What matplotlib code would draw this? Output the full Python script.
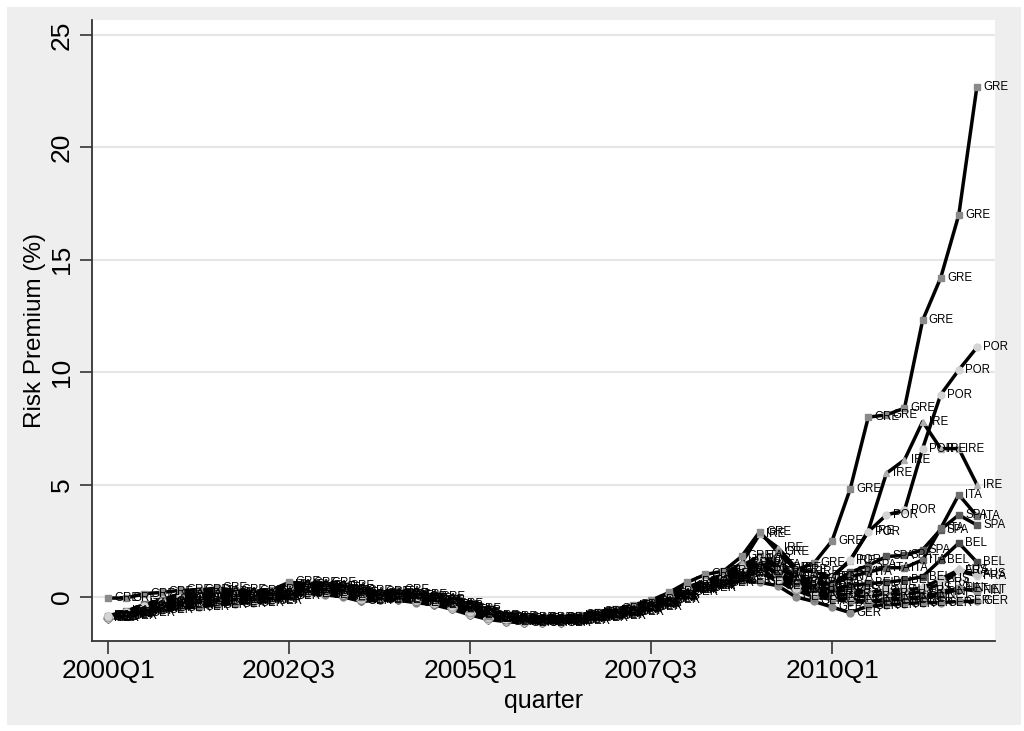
import matplotlib
matplotlib.use("Agg")
import matplotlib.pyplot as plt
from matplotlib.patches import Rectangle

plt.rcParams['font.family'] = ['Liberation Sans', 'DejaVu Sans']

quarters = list(range(49))  # 2000Q1 .. 2012Q1
tick_pos = [0, 10, 20, 30, 40]
tick_labels = ["2000Q1", "2002Q3", "2005Q1", "2007Q3", "2010Q1"]

GRE = [-0.05, -0.05, 0.15, 0.20, 0.30, 0.30, 0.40, 0.30, 0.25, 0.30,
       0.65, 0.60, 0.60, 0.50, 0.25, 0.20, 0.30, 0.10, 0.00, -0.30,
       -0.55, -0.85, -0.90, -0.95, -0.95, -0.95, -0.80, -0.65, -0.55, -0.35,
       -0.15, 0.20, 0.65, 1.00, 1.15, 1.80, 2.90, 2.00, 1.20, 1.50,
       2.50, 4.80, 8.00, 8.10, 8.40, 12.30, 14.20, 17.00, 22.70]
POR = [-0.86, -0.67, -0.40, -0.21, 0.02, 0.04, 0.14, 0.09, 0.08, 0.13,
       0.44, 0.44, 0.43, 0.33, 0.09, 0.08, 0.14, -0.02, -0.12, -0.39,
       -0.64, -0.90, -0.97, -1.02, -1.02, -1.02, -0.89, -0.76, -0.66, -0.46,
       -0.26, 0.08, 0.40, 0.65, 0.90, 1.30, 1.70, 1.30, 0.85, 0.80,
       0.90, 1.65, 2.90, 3.65, 3.85, 6.60, 9.00, 10.10, 11.10]
IRE = [-0.88, -0.71, -0.47, -0.30, -0.10, -0.08, 0.03, 0.00, 0.00, 0.05,
       0.35, 0.38, 0.35, 0.25, 0.03, 0.03, 0.08, -0.08, -0.18, -0.43,
       -0.68, -0.93, -1.00, -1.05, -1.05, -1.05, -0.93, -0.80, -0.70, -0.50,
       -0.30, 0.03, 0.40, 0.70, 1.00, 1.50, 2.80, 2.20, 1.30, 1.10,
       0.90, 1.60, 2.95, 5.50, 6.10, 7.80, 6.60, 6.60, 5.00]
ITA = [-0.84, -0.63, -0.33, -0.12, 0.14, 0.15, 0.25, 0.18, 0.15, 0.20,
       0.53, 0.51, 0.50, 0.40, 0.16, 0.13, 0.21, 0.03, -0.07, -0.35,
       -0.60, -0.88, -0.94, -0.99, -0.99, -0.99, -0.85, -0.71, -0.61, -0.41,
       -0.21, 0.13, 0.45, 0.70, 0.95, 1.40, 1.80, 1.40, 0.90, 0.70,
       0.55, 0.90, 1.10, 1.30, 1.30, 1.65, 3.05, 4.55, 3.60]
SPA = [-0.89, -0.72, -0.49, -0.33, -0.14, -0.11, -0.01, -0.03, -0.03, 0.03,
       0.32, 0.35, 0.33, 0.23, 0.00, 0.01, 0.05, -0.09, -0.19, -0.44,
       -0.69, -0.93, -1.01, -1.06, -1.06, -1.06, -0.94, -0.82, -0.72, -0.52,
       -0.32, 0.01, 0.35, 0.55, 0.80, 1.10, 1.40, 1.10, 0.70, 0.60,
       0.60, 1.10, 1.40, 1.80, 1.85, 2.10, 3.00, 3.65, 3.20]
BEL = [-0.88, -0.70, -0.44, -0.27, -0.06, -0.04, 0.06, 0.03, 0.03, 0.08,
       0.38, 0.40, 0.38, 0.28, 0.05, 0.04, 0.10, -0.06, -0.16, -0.41,
       -0.66, -0.92, -0.99, -1.04, -1.04, -1.04, -0.91, -0.79, -0.69, -0.49,
       -0.29, 0.04, 0.40, 0.60, 0.85, 1.20, 1.50, 1.00, 0.60, 0.40,
       0.35, 0.50, 0.60, 0.65, 0.75, 0.90, 1.65, 2.40, 1.55]
AUS = [-0.90, -0.74, -0.51, -0.36, -0.18, -0.15, -0.05, -0.06, -0.05, 0.00,
       0.29, 0.33, 0.30, 0.20, -0.02, -0.01, 0.03, -0.11, -0.21, -0.45,
       -0.70, -0.94, -1.02, -1.07, -1.07, -1.07, -0.95, -0.83, -0.73, -0.53,
       -0.33, -0.01, 0.35, 0.55, 0.80, 1.30, 1.60, 1.00, 0.50, 0.30,
       0.25, 0.30, 0.20, 0.30, 0.30, 0.40, 0.80, 1.20, 1.00]
FRA = [-0.91, -0.77, -0.56, -0.42, -0.26, -0.23, -0.13, -0.12, -0.10, -0.05,
       0.23, 0.29, 0.25, 0.15, -0.07, -0.05, -0.02, -0.15, -0.25, -0.48,
       -0.73, -0.96, -1.04, -1.09, -1.09, -1.09, -0.98, -0.86, -0.76, -0.56,
       -0.36, -0.05, 0.30, 0.50, 0.75, 1.00, 1.10, 0.80, 0.40, 0.20,
       0.10, 0.10, 0.00, 0.15, 0.10, 0.25, 0.60, 1.15, 0.95]
FIN = [-0.92, -0.78, -0.58, -0.45, -0.30, -0.26, -0.16, -0.15, -0.13, -0.08,
       0.20, 0.26, 0.23, 0.13, -0.09, -0.06, -0.04, -0.16, -0.26, -0.49,
       -0.74, -0.96, -1.05, -1.10, -1.10, -1.10, -0.99, -0.88, -0.78, -0.58,
       -0.38, -0.06, 0.30, 0.50, 0.75, 1.00, 1.20, 0.80, 0.30, 0.05,
       0.00, -0.10, -0.20, -0.10, -0.05, 0.00, 0.20, 0.40, 0.25]
NET = [-0.93, -0.81, -0.63, -0.51, -0.38, -0.34, -0.24, -0.21, -0.18, -0.13,
       0.14, 0.22, 0.18, 0.08, -0.13, -0.10, -0.08, -0.20, -0.30, -0.51,
       -0.76, -0.98, -1.07, -1.12, -1.12, -1.12, -1.01, -0.91, -0.81, -0.61,
       -0.41, -0.10, 0.30, 0.50, 0.70, 0.95, 1.10, 0.70, 0.30, 0.00,
       -0.10, -0.20, -0.25, -0.15, -0.10, -0.05, 0.10, 0.35, 0.30]
GER = [-0.95, -0.85, -0.70, -0.60, -0.50, -0.45, -0.35, -0.30, -0.25, -0.20,
       0.05, 0.15, 0.10, 0.00, -0.20, -0.15, -0.15, -0.25, -0.35, -0.55,
       -0.80, -1.00, -1.10, -1.15, -1.15, -1.15, -1.05, -0.95, -0.85, -0.65,
       -0.45, -0.15, 0.20, 0.40, 0.60, 0.70, 0.65, 0.50, 0.00, -0.20,
       -0.45, -0.70, -0.40, -0.35, -0.30, -0.25, -0.25, -0.20, -0.20]

countries = ["GER", "NET", "FIN", "FRA", "AUS", "BEL", "SPA", "ITA", "IRE", "POR", "GRE"]
series = {"GRE": GRE, "POR": POR, "IRE": IRE, "ITA": ITA, "SPA": SPA, "BEL": BEL,
          "AUS": AUS, "FRA": FRA, "FIN": FIN, "NET": NET, "GER": GER}
markers = {"GRE": ("s", "#8a8a8a"), "POR": ("o", "#d4d4d4"), "IRE": ("^", "#b0b0b0"),
           "ITA": ("s", "#6e6e6e"), "SPA": ("s", "#5a5a5a"), "BEL": ("s", "#4a4a4a"),
           "AUS": ("D", "#c8c8c8"), "FRA": ("o", "#dcdcdc"), "FIN": ("s", "#9a9a9a"),
           "NET": ("D", "#7a7a7a"), "GER": ("o", "#8c8c8c")}

fig = plt.figure(figsize=(10.24, 7.31), dpi=100, facecolor="white")
bg = Rectangle((7 / 1024, 1 - 725 / 731), (1021 - 7) / 1024, (725 - 7) / 731,
               transform=fig.transFigure, facecolor="#eeeeee", edgecolor="none", zorder=-10)
fig.add_artist(bg)
ax = fig.add_axes([92 / 1024, 1 - 641 / 731, (995 - 92) / 1024, (641 - 20) / 731])
ax.set_zorder(1)
ax.set_facecolor("white")

for c in countries:
    y = series[c]
    m, col = markers[c]
    ax.plot(quarters, y, color="black", lw=2.5, zorder=2, solid_joinstyle="round")
    ax.plot(quarters, y, ls="none", marker=m, ms=5, mfc=col, mec=col, zorder=3)
    for q, v in zip(quarters, y):
        ax.annotate(c, (q, v), xytext=(4.5, 0), textcoords="offset points",
                    va="center", ha="left", fontsize=8.3, color="black", zorder=4)

ax.set_xlim(-0.884, 49.0)
ax.set_ylim(-1.96, 25.67)
ax.set_yticks([0, 5, 10, 15, 20, 25])
ax.set_yticklabels(["0", "5", "10", "15", "20", "25"], rotation=90, va="center")
ax.set_xticks(tick_pos)
ax.set_xticklabels(tick_labels)
ax.tick_params(axis="both", labelsize=19, length=9, width=1.2, color="#333333", pad=4)
ax.grid(axis="y", color="#e6e6e6", lw=1.5, zorder=0)
ax.set_axisbelow(True)
for s in ["top", "right"]:
    ax.spines[s].set_visible(False)
for s in ["left", "bottom"]:
    ax.spines[s].set_color("#333333")
    ax.spines[s].set_linewidth(1.3)
ax.set_ylabel("Risk Premium (%)", fontsize=17.5, labelpad=3)
ax.set_xlabel("quarter", fontsize=18, labelpad=4)

fig.savefig("out.png", dpi=100, facecolor="white")
